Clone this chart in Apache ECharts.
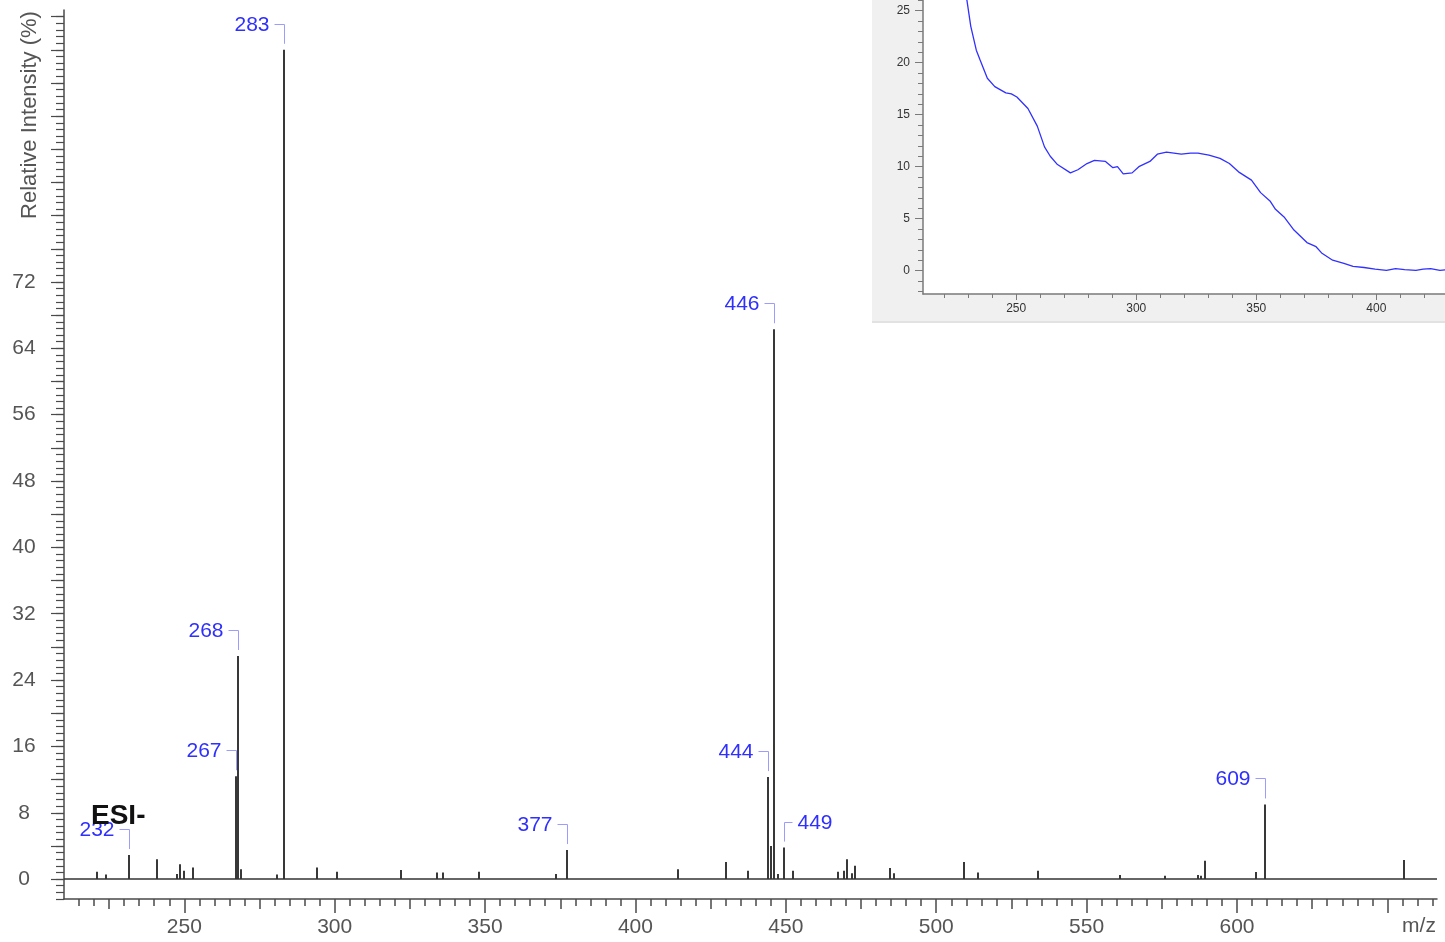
<!DOCTYPE html>
<html><head><meta charset="utf-8">
<script src="https://cdn.jsdelivr.net/npm/echarts@6/dist/echarts.min.js"></script>
<style>html,body{margin:0;padding:0;background:#fff}#c{width:1445px;height:942px}</style>
</head><body><div id="c"></div>
<script>
// ---- Mass spectrum (ESI-) ----
const peakMz = [221.1, 224.1, 231.7, 240.9, 247.6, 248.6, 249.8, 252.9, 267.1, 268.0, 268.9, 280.8, 283.0, 294.1, 300.8,
  322.2, 334.0, 336.0, 348.0, 373.6, 377.3, 414.1, 430.2, 437.3, 444.1, 445.1, 446.0, 447.3, 449.4, 452.3,
  467.2, 469.2, 470.3, 472.0, 473.0, 484.6, 485.9, 509.1, 513.9, 533.7, 561.1, 576.0, 587.1, 588.1, 589.3,
  606.4, 609.3, 655.6];
const peakIntensity = [0.9, 0.55, 2.9, 2.4, 0.6, 1.8, 1.0, 1.4, 12.4, 26.9, 1.2, 0.55, 100, 1.4, 0.9,
  1.1, 0.8, 0.8, 0.9, 0.6, 3.5, 1.2, 2.05, 1.0, 12.3, 4.0, 66.3, 0.6, 3.8, 1.0,
  0.9, 1.0, 2.4, 0.7, 1.6, 1.35, 0.7, 2.05, 0.8, 1.0, 0.5, 0.4, 0.5, 0.4, 2.2,
  0.85, 9.0, 2.3];
const labelMz = [231.7, 267.1, 268.0, 283.0, 377.3, 444.1, 446.0, 449.4, 609.3];
const labelText = ['232', '267', '268', '283', '377', '444', '446', '449', '609'];
const labelSide = ['left', 'left', 'left', 'left', 'left', 'left', 'left', 'right', 'left'];
const xTickLabels = [250, 300, 350, 400, 450, 500, 550, 600];
const yTickLabels = [0, 8, 16, 24, 32, 40, 48, 56, 64, 72];

// ---- UV inset ----
const uvWavelength = [217.5, 220, 225, 229.5, 231.1, 233.4, 234.9, 238.0, 241.1, 245.7, 248.0, 250.3, 254.9, 258.8,
  261.8, 264.2, 267.2, 272.6, 275.7, 279.5, 282.6, 287.2, 290.3, 292.2, 294.6, 298.3, 301.1, 305.7, 308.8,
  312.6, 318.8, 322.6, 325.7, 330.3, 334.9, 338.8, 342.6, 348.0, 351.8, 355.7, 358.0, 361.8, 365.7, 371.1,
  374.9, 377.2, 381.8, 386.5, 390.3, 394.9, 399.5, 404.2, 408.0, 411.8, 416.5, 419.5, 422.6, 426.5, 430.0];
const uvAbsorbance = [26.1, 28.0, 29.0, 26.0, 23.5, 21.2, 20.3, 18.5, 17.7, 17.1, 17.0, 16.7, 15.6, 13.9,
  11.9, 11.0, 10.2, 9.4, 9.7, 10.3, 10.6, 10.5, 9.9, 10.0, 9.3, 9.4, 10.0, 10.5, 11.2,
  11.4, 11.2, 11.3, 11.3, 11.1, 10.8, 10.3, 9.5, 8.7, 7.5, 6.7, 5.9, 5.1, 3.9, 2.7,
  2.3, 1.7, 1.0, 0.7, 0.4, 0.3, 0.15, 0.03, 0.2, 0.1, 0.03, 0.15, 0.2, 0.03, 0.1];
const uvXTickLabels = [250, 300, 350, 400];
const uvYTickLabels = [0, 5, 10, 15, 20, 25];

function range(a, b, step) {
  const out = [];
  const n = Math.round((b - a) / step);
  for (let i = 0; i <= n; i++) out.push(Math.round((a + i * step) * 1000) / 1000);
  return out;
}

const X_MIN = 210, X_MAX = 666.5, Y_MIN = -2.4, Y_MAX = 104.8;
const UX_MIN = 211.2, UX_MAX = 428.6, UY_MIN = -2.25, UY_MAX = 26.03;
const FONT = '"Liberation Sans", Arial, sans-serif';
const AX = '#4a4a4a';

const mainGrid = { left: 64, top: 10, right: 8, bottom: 43 };
const insetGrid = { left: 923, top: 0, right: 0, height: 294, show: true, backgroundColor: '#fff', borderWidth: 0 };

function hiddenAxisBase(min, max) {
  return { type: 'value', min: min, max: max, splitLine: { show: false },
    axisLine: { show: false, onZero: false }, axisLabel: { show: false } };
}

const intensityOf = m => peakIntensity[peakMz.indexOf(m)];

const chart = echarts.init(document.getElementById('c'), null, { renderer: 'canvas' });
chart.setOption({
  animation: false,
  backgroundColor: '#fff',
  grid: [
    Object.assign({}, mainGrid),
    Object.assign({}, mainGrid),
    Object.assign({}, mainGrid),
    Object.assign({}, insetGrid),
    { left: 923, top: 0, right: 0, height: 294 }
  ],
  xAxis: [
    { gridIndex: 0, type: 'value', min: X_MIN, max: X_MAX, position: 'bottom', splitLine: { show: false },
      axisLine: { onZero: false, lineStyle: { color: AX, width: 1.5 } },
      axisTick: { customValues: range(250, 650, 50), length: 14, inside: false, lineStyle: { color: AX, width: 1.5 } },
      axisLabel: { customValues: xTickLabels, margin: 18, color: '#555', fontSize: 21, fontFamily: FONT } },
    Object.assign(hiddenAxisBase(X_MIN, X_MAX), { gridIndex: 1, position: 'bottom',
      axisTick: { customValues: range(215, 665, 5), length: 7, lineStyle: { color: AX, width: 1.5 } } }),
    Object.assign(hiddenAxisBase(X_MIN, X_MAX), { gridIndex: 2, position: 'bottom',
      axisTick: { customValues: range(225, 650, 25), length: 10, lineStyle: { color: AX, width: 1.5 } } }),
    { gridIndex: 3, type: 'value', min: UX_MIN, max: UX_MAX, splitLine: { show: false },
      axisLine: { onZero: false, lineStyle: { color: '#7a7a7a', width: 1.5 } },
      axisTick: { customValues: uvXTickLabels, length: 6, lineStyle: { color: '#7a7a7a' } },
      axisLabel: { customValues: uvXTickLabels, margin: 9, color: '#333', fontSize: 12, fontFamily: FONT } },
    Object.assign(hiddenAxisBase(UX_MIN, UX_MAX), { gridIndex: 4,
      axisTick: { customValues: range(220, 420, 10), length: 4, lineStyle: { color: '#7a7a7a' } } })
  ],
  yAxis: [
    { gridIndex: 0, type: 'value', min: Y_MIN, max: Y_MAX, splitLine: { show: false },
      axisLine: { onZero: false, lineStyle: { color: AX, width: 1.5 } },
      axisTick: { customValues: range(0, 104, 4), length: 13, lineStyle: { color: AX, width: 1.2 } },
      axisLabel: { customValues: yTickLabels, margin: 40, align: 'center', color: '#555', fontSize: 21, fontFamily: FONT } },
    Object.assign(hiddenAxisBase(Y_MIN, Y_MAX), { gridIndex: 1,
      axisTick: { customValues: range(-2.4, 104, 0.8), length: 8, lineStyle: { color: AX, width: 1.2 } } }),
    Object.assign(hiddenAxisBase(Y_MIN, Y_MAX), { gridIndex: 2, show: false }),
    { gridIndex: 3, type: 'value', min: UY_MIN, max: UY_MAX, splitLine: { show: false },
      axisLine: { onZero: false, lineStyle: { color: '#7a7a7a', width: 1.5 } },
      axisTick: { customValues: uvYTickLabels, length: 8, lineStyle: { color: '#7a7a7a' } },
      axisLabel: { customValues: uvYTickLabels, margin: 13, color: '#333', fontSize: 12, fontFamily: FONT } },
    Object.assign(hiddenAxisBase(UY_MIN, UY_MAX), { gridIndex: 4,
      axisTick: { customValues: range(-2, 26, 1), length: 5, lineStyle: { color: '#7a7a7a' } } })
  ],
  graphic: [
    { type: 'rect', z: -10, shape: { x: 872, y: 0, width: 573, height: 321 }, style: { fill: '#f0f0f0' } },
    { type: 'rect', z: -10, shape: { x: 872, y: 321, width: 573, height: 2 }, style: { fill: '#e2e2e2' } },
    { type: 'text', x: 30, y: 115, rotation: Math.PI / 2,
      style: { text: 'Relative Intensity (%)', fill: '#555', font: '22px ' + FONT, align: 'center', verticalAlign: 'middle' } },
    { type: 'text', x: 1419, y: 926,
      style: { text: 'm/z', fill: '#555', font: '21px ' + FONT, align: 'center', verticalAlign: 'middle' } },
    { type: 'text', x: 91, y: 816, z: 100,
      style: { text: 'ESI-', fill: '#111', font: 'bold 28px ' + FONT, align: 'left', verticalAlign: 'middle' } }
  ],
  series: [
    { type: 'custom', xAxisIndex: 0, yAxisIndex: 0,
      data: peakMz.map((m, i) => [m, peakIntensity[i]]),
      renderItem: function (params, api) {
        const p0 = api.coord([api.value(0), 0]);
        const p1 = api.coord([api.value(0), api.value(1)]);
        const x = Math.round(p0[0]);
        return { type: 'line', shape: { x1: x, y1: p0[1], x2: x, y2: p1[1] },
          style: { stroke: '#383838', lineWidth: 2 } };
      },
      markLine: { silent: true, symbol: 'none', animation: false, label: { show: false },
        lineStyle: { color: '#333', width: 1.5, type: 'solid' }, data: [{ yAxis: 0 }] }
    },
    { type: 'custom', xAxisIndex: 0, yAxisIndex: 0, z: 5,
      data: labelMz.map((m, i) => [m, intensityOf(m), i]),
      renderItem: function (params, api) {
        const i = api.value(2);
        const p = api.coord([api.value(0), api.value(1)]);
        const px = Math.round(p[0]) + 0.5, py = p[1];
        const ly = Math.round(py - 26) + 0.5;
        const left = labelSide[i] === 'left';
        const pts = left ? [[px - 10, ly], [px, ly], [px, py - 6]] : [[px, py - 6], [px, ly], [px + 8, ly]];
        return { type: 'group', children: [
          { type: 'polyline', shape: { points: pts }, style: { stroke: '#9c9cff', lineWidth: 1, fill: null } },
          { type: 'text', style: { text: labelText[i], x: left ? px - 15 : px + 13, y: ly + 1,
            align: left ? 'right' : 'left', verticalAlign: 'middle', fill: '#2f2fff', font: '21px ' + FONT } }
        ] };
      }
    },
    { type: 'line', xAxisIndex: 3, yAxisIndex: 3, showSymbol: false, clip: true,
      data: uvWavelength.map((w, i) => [w, uvAbsorbance[i]]),
      lineStyle: { color: '#3030ff', width: 1.3 } }
  ]
});
</script></body></html>
